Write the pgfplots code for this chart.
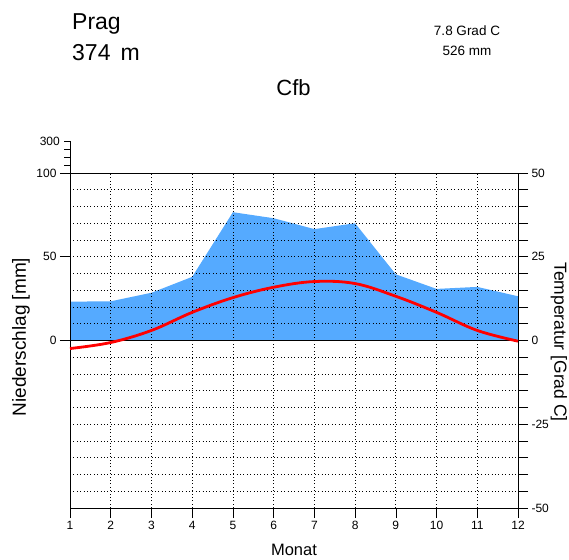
\documentclass[border=0pt]{standalone}
\usepackage{fontspec}
\setmainfont{Liberation Sans}
\usepackage{pgfplots}
\pgfplotsset{compat=1.18}
\definecolor{precip}{HTML}{55AAFF}
\definecolor{temp}{HTML}{FF0000}

\begin{document}
\begin{tikzpicture}[x=1pt,y=1pt]
\useasboundingbox (-70,-51) rectangle (499,508);

% Niederschlag (mm), linke Achse
\begin{axis}[
  at={(0,0)}, anchor=south west, scale only axis,
  width=448pt, height=335pt,
  xmin=1, xmax=12, ymin=-100, ymax=100,
  xtick={1,2,3,4,5,6,7,8,9,10,11,12}, ytick={0,50,100},
  xtick pos=left, ytick pos=left, tick align=outside,
  major tick length=10pt,
  tick style={black, line width=0.6pt},
  axis line style={black, line width=0.8pt},
  xmajorgrids,
  grid style={black, line width=0.75pt, dash pattern=on 0.9pt off 2.5pt},
  tick label style={font=\fontsize{12}{12}\selectfont},
  /pgf/number format/assume math mode=true,
  axis on top, clip=false,
]
\addplot[fill=precip, draw=none] coordinates {
  (1,23.2) (2,23.4) (3,28.5) (4,38) (5,76.6) (6,73) (7,66.5) (8,70)
  (9,39.5) (10,30.8) (11,32) (12,26.4)} \closedcycle;
\end{axis}

% Temperatur (Grad C), rechte Achse
\begin{axis}[
  at={(0,0)}, anchor=south west, scale only axis,
  width=448pt, height=335pt,
  xmin=1, xmax=12, ymin=-50, ymax=50,
  hide x axis, axis y line*=right,
  ytick={-50,-25,0,25,50},
  minor ytick={-45,-40,-35,-30,-20,-15,-10,-5,5,10,15,20,30,35,40,45},
  ymajorgrids, yminorgrids,
  grid style={black, line width=0.75pt, dash pattern=on 0.9pt off 2.5pt},
  minor grid style={black, line width=0.75pt, dash pattern=on 0.9pt off 2.5pt},
  tick align=outside, major tick length=10pt, minor tick length=10pt,
  tick style={black, line width=0.6pt},
  axis line style={black, line width=0.8pt},
  tick label style={font=\fontsize{12}{12}\selectfont},
  /pgf/number format/assume math mode=true,
  clip=false,
]
\draw[black, line width=0.9pt] (axis cs:1,0) -- (axis cs:12,0);
\addplot[temp, line width=2.8pt, smooth, tension=0.6] coordinates {
  (1,-2.4) (2,-0.6) (3,3.0) (4,8.4) (5,12.8) (6,15.9) (7,17.6) (8,17.0)
  (9,13.2) (10,8.4) (11,3.0) (12,-0.2)};
\end{axis}

% gestauchter Bereich 100-300 mm ueber der Achse
\draw[black, line width=0.6pt] (0,335) -- (0,367);
\draw[black, line width=0.6pt] (0,343) -- (-6,343);
\draw[black, line width=0.6pt] (0,351) -- (-6,351);
\draw[black, line width=0.6pt] (0,359) -- (-6,359);
\draw[black, line width=0.6pt] (0,367) -- (-6,367);
\node[anchor=east, font=\fontsize{12}{12}\selectfont, inner sep=0pt] at (-10,367) {300};

\node[rotate=90, font=\fontsize{19}{19}\selectfont] at (-49,171) {Niederschlag [mm]};
\node[rotate=-90, font=\fontsize{17.5}{17.5}\selectfont] at (489,166) {Temperatur [Grad C]};
\node[anchor=base, font=\fontsize{16.5}{16.5}\selectfont, inner sep=0pt] at (224,-47) {Monat};

\node[anchor=base west, font=\fontsize{23}{23}\selectfont, inner sep=0pt] at (2,478) {Prag};
\node[anchor=base west, font=\fontsize{23}{23}\selectfont, inner sep=0pt] at (2,447) {374\hspace{10pt}m};
\node[anchor=base, font=\fontsize{13.5}{13.5}\selectfont, inner sep=0pt] at (397,472) {7.8 Grad C};
\node[anchor=base, font=\fontsize{13.5}{13.5}\selectfont, inner sep=0pt] at (397,452) {526 mm};
\node[anchor=base, font=\fontsize{22}{22}\selectfont, inner sep=0pt] at (223.5,412) {Cfb};
\end{tikzpicture}
\end{document}
